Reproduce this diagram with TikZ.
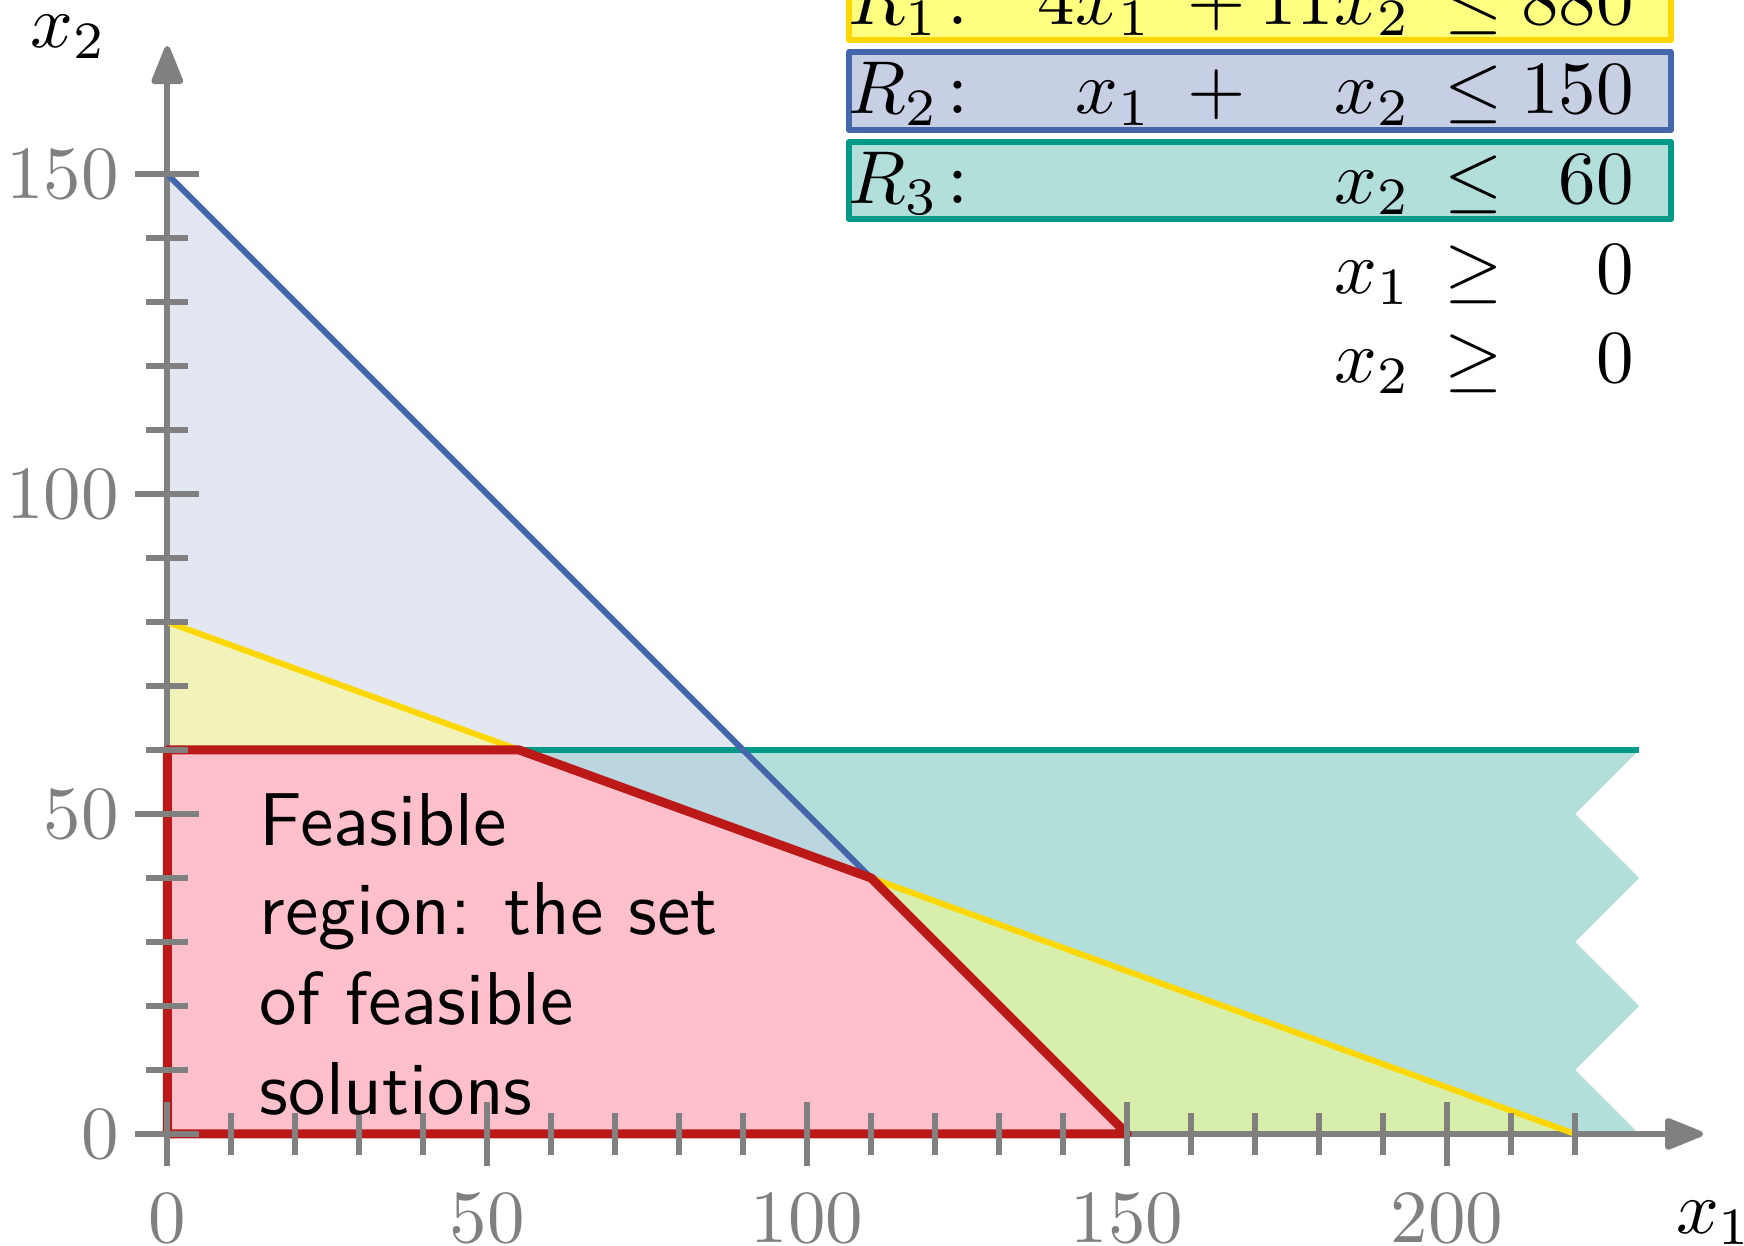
\documentclass[tikz,border=0pt]{standalone}
\usepackage{amsmath, amssymb}
\usepackage{tikz}
\usetikzlibrary{arrows.meta}

\definecolor{axisgray}{RGB}{128,128,128}
\definecolor{r1line}{RGB}{255,215,0}
\definecolor{r1fill}{RGB}{255,255,128}
\definecolor{r2line}{RGB}{68,102,170}
\definecolor{r2fill}{RGB}{198,207,228}
\definecolor{r3line}{RGB}{0,153,136}
\definecolor{r3fill}{RGB}{178,223,218}
\definecolor{feasline}{RGB}{187,24,24}
\definecolor{feasfill}{RGB}{255,192,203}

\tikzset{
  cons/.style={inner sep=0pt},
  tick/.style={axisgray, thick},
  consbox/.style={thick, line join=round}
}

\begin{document}
\begin{tikzpicture}[x=0.3mm, y=0.3mm, >={Triangle[length=5.8pt, width=4.4pt, round]}, thick]
        \useasboundingbox (-26.14,-17.5) rectangle (246.4,177.2);
        % Constraint regions
        \fill [r3fill] (0,0) -- (0,60) -- (230,60) -- (220,50) -- (230,40) -- (220,30) -- (230,20) -- (220,10) -- (230,0) -- cycle;
        \fill [r2fill, fill opacity=0.5] (0,0) -- (0,150) -- (150,0) -- cycle;
        \fill [r1fill, fill opacity=0.5] (0,0) -- (0,80) -- (220,0) -- cycle;
        % Feasible region
        \fill [feasfill] (0,0) -- (0,60) -- (55,60) -- (110,40) -- (150,0) -- cycle;
        % Axes
        \coordinate (O) at (0,0);
        \coordinate (xend) at (240,0);
        \coordinate (yend) at (0,170);
        \draw [axisgray, ->] (O) -- (xend);
        \draw [axisgray, ->] (O) -- (yend);
        % Constraint lines
        \draw [r3line] (0,60) -- (230,60);
        \draw [r2line] (0,150) -- (150,0);
        \draw [r1line] (0,80) -- (220,0);
        \draw [feasline, very thick, line join=round] (0,0) -- (0,60) -- (55,60) -- (110,40) -- (150,0) -- cycle;
        % Ticks and tick labels
        \foreach \x in {10,20,...,220} \draw [tick] (\x,-3.3) -- (\x,3.3);
        \foreach \y in {10,20,...,150} \draw [tick] (-3.3,\y) -- (3.3,\y);
        \foreach \x in {0,50,...,200} {
            \draw [tick] (\x,-5) -- (\x,5);
            \node [text=axisgray, below] (xt\x) at (\x,-5) {$\x$};
        }
        \foreach \y in {0,50,...,150} {
            \draw [tick] (-5,\y) -- (5,\y);
            \node [text=axisgray, left, inner sep=1.8pt] (yt\y) at (-5,\y) {$\y$};
        }
        \node [cons, anchor=base west] (x1lab) at (235.3,-15.5) {$x_1$};
        \node [cons, anchor=base west] (x2lab) at (-21.8,169.8) {$x_2$};
        % Feasible region label
        \node [cons, anchor=north west, align=left, font=\sffamily] (feas) at (14,53.75) {Feasible\\region: the set\\of feasible\\solutions};
        % Constraint boxes
        \draw [consbox, r1line, fill=r1fill] (106.5,170.9) rectangle (235,183);
        \draw [consbox, r2line, fill=r2fill] (106.5,156.9) rectangle (235,169);
        \draw [consbox, r3line, fill=r3fill] (106.5,142.9) rectangle (235,155);
        % Constraints
        \node [cons, anchor=base west] (r1lab) at (106,173.4) {$R_1\colon$};
        \node [cons, anchor=base east] (r1a) at (154.3,173.4) {$4x_1$};
        \node [cons, anchor=base] (r1plus) at (164,173.4) {$+$};
        \node [cons, anchor=base east] (r1b) at (194.8,173.4) {$11x_2$};
        \node [cons, anchor=base] (r1rel) at (204.1,173.4) {$\leq$};
        \node [cons, anchor=base east] (r1rhs) at (229.6,173.4) {$880$};
        \node [cons, anchor=base west] (r2lab) at (106,159.4) {$R_2\colon$};
        \node [cons, anchor=base east] (r2a) at (154.3,159.4) {$x_1$};
        \node [cons, anchor=base] (r2plus) at (164,159.4) {$+$};
        \node [cons, anchor=base east] (r2b) at (194.8,159.4) {$x_2$};
        \node [cons, anchor=base] (r2rel) at (204.1,159.4) {$\leq$};
        \node [cons, anchor=base east] (r2rhs) at (229.6,159.4) {$150$};
        \node [cons, anchor=base west] (r3lab) at (106,145.4) {$R_3\colon$};
        \node [cons, anchor=base east] (r3b) at (194.8,145.4) {$x_2$};
        \node [cons, anchor=base] (r3rel) at (204.1,145.4) {$\leq$};
        \node [cons, anchor=base east] (r3rhs) at (229.6,145.4) {$60$};
        \node [cons, anchor=base east] (nn1) at (194.8,131.4) {$x_1$};
        \node [cons, anchor=base] (nn1rel) at (204.1,131.4) {$\geq$};
        \node [cons, anchor=base east] (nn1rhs) at (229.6,131.4) {$0$};
        \node [cons, anchor=base east] (nn2) at (194.8,117.4) {$x_2$};
        \node [cons, anchor=base] (nn2rel) at (204.1,117.4) {$\geq$};
        \node [cons, anchor=base east] (nn2rhs) at (229.6,117.4) {$0$};
    \end{tikzpicture}
\end{document}
